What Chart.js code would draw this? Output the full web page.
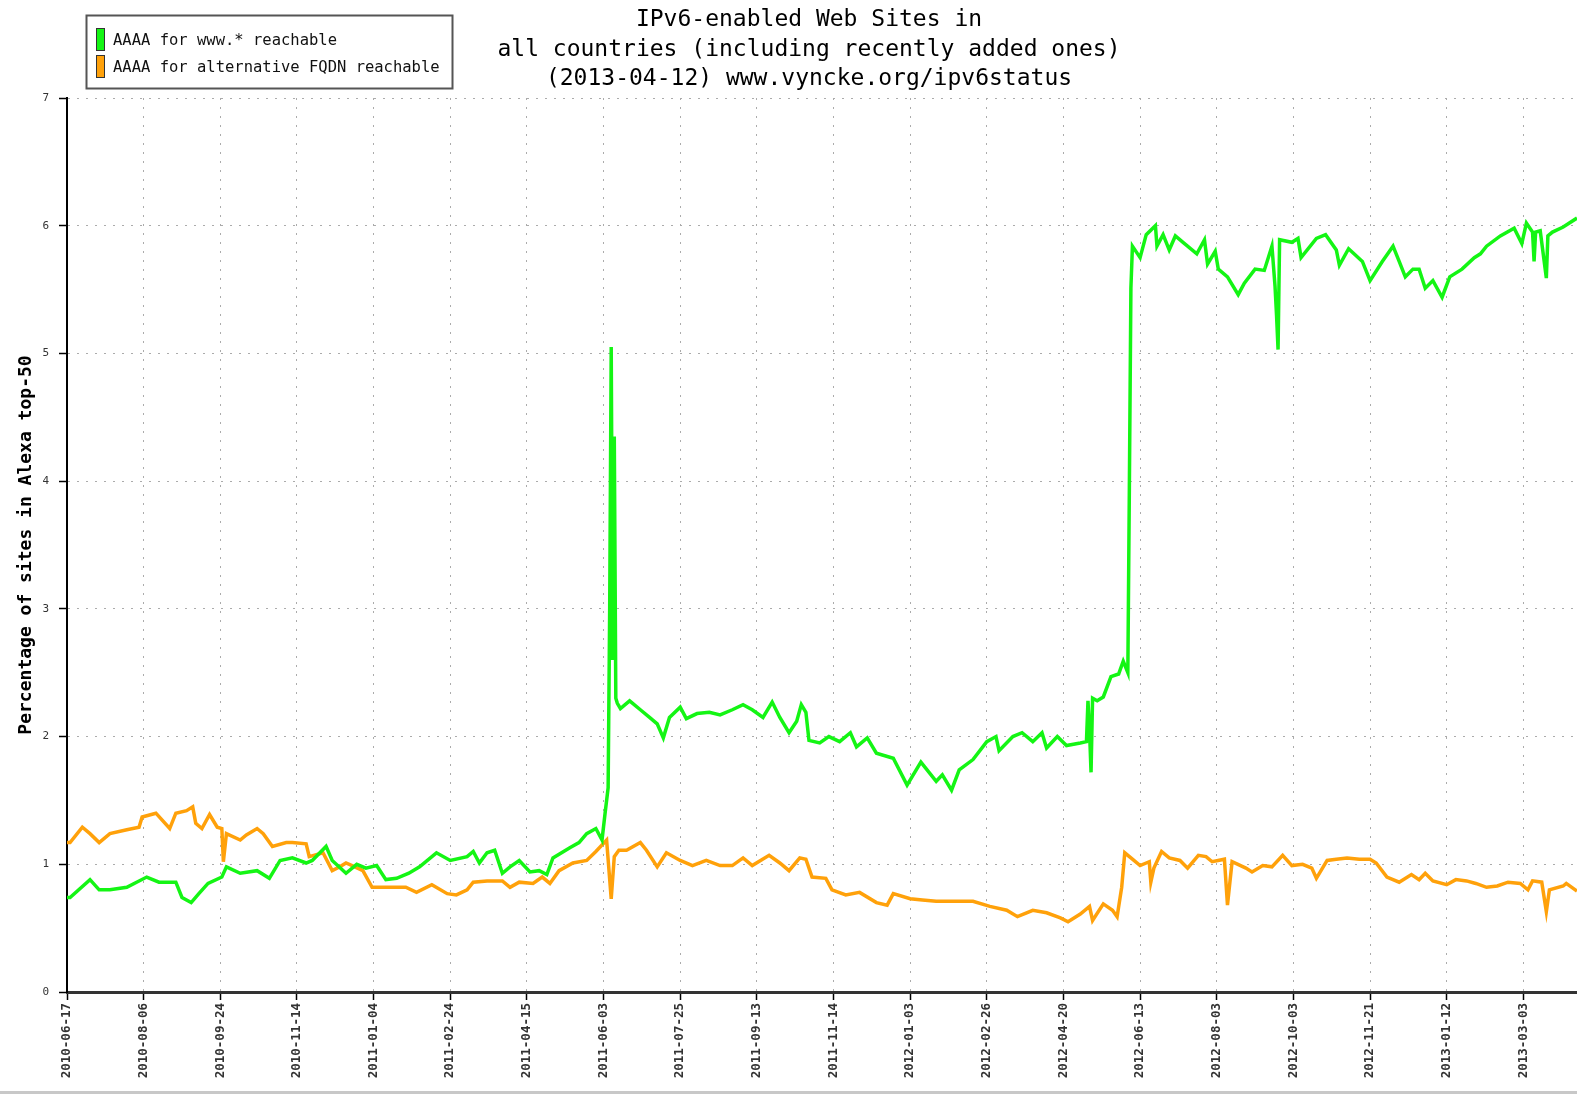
<!DOCTYPE html>
<html>
<head>
<meta charset="utf-8">
<title>IPv6-enabled Web Sites</title>
<script src="https://cdn.jsdelivr.net/npm/chart.js@4.4.0/dist/chart.umd.min.js"></script>
<style>
    html, body { margin: 0; padding: 0; background: #fff; }
    #wrap { width: 1577px; height: 1094px; }
</style>
</head>
<body>
<div id="wrap"><canvas id="ipv6Chart" width="1577" height="1094"></canvas></div>
<script>
    // x = sample number (one sample per collection run), y = percentage
    const tickDates = [
        '2010-06-17', '2010-08-06', '2010-09-24', '2010-11-14', '2011-01-04',
        '2011-02-24', '2011-04-15', '2011-06-03', '2011-07-25', '2011-09-13',
        '2011-11-14', '2012-01-03', '2012-02-26', '2012-04-20', '2012-06-13',
        '2012-08-03', '2012-10-03', '2012-11-21', '2013-01-12', '2013-03-03'
    ];
    const samplesPerTick = 50;
    const lastSample = 985;

    const titleLines = [
        'IPv6-enabled Web Sites in',
        'all countries (including recently added ones)',
        '(2013-04-12) www.vyncke.org/ipv6status'
    ];
    const yTitle = 'Percentage of sites in Alexa top-50';

    const wwwLabel = 'AAAA for www.* reachable';
    const wwwSeries = [
        [0,0.74],[2,0.74],[15,0.88],[21,0.80],[28,0.80],[39,0.82],[52,0.90],[60,0.86],[71,0.86],[75,0.74],
        [81,0.70],[86,0.77],[92,0.85],[101,0.90],[104,0.98],[113,0.93],[124,0.95],[132,0.89],[139,1.03],[147,1.05],
        [156,1.01],[160,1.03],[169,1.14],[173,1.03],[182,0.93],[189,1.00],[195,0.97],[202,0.99],[208,0.88],[215,0.89],
        [223,0.93],[230,0.98],[241,1.09],[250,1.03],[261,1.06],[265,1.10],[269,1.01],[274,1.09],[279,1.11],[284,0.93],
        [289,0.98],[295,1.03],[302,0.94],[308,0.95],[313,0.92],[317,1.05],[328,1.13],[334,1.17],[339,1.24],[345,1.28],
        [349,1.19],[351,1.40],[353,1.60],[354,3.00],[355,5.05],[356,2.60],[357,4.35],[358,2.30],[359,2.26],[361,2.22],
        [367,2.28],[374,2.21],[380,2.15],[385,2.10],[389,1.99],[393,2.15],[400,2.23],[404,2.14],[411,2.18],[419,2.19],
        [426,2.17],[434,2.21],[441,2.25],[447,2.21],[454,2.15],[460,2.27],[465,2.15],[471,2.03],[476,2.12],[479,2.25],
        [482,2.19],[484,1.97],[491,1.95],[497,2.00],[504,1.96],[511,2.03],[515,1.92],[522,1.99],[528,1.87],[539,1.83],
        [548,1.62],[557,1.80],[567,1.65],[571,1.70],[577,1.58],[582,1.74],[591,1.82],[600,1.96],[606,2.00],[608,1.89],
        [617,2.00],[623,2.03],[630,1.96],[636,2.03],[639,1.91],[646,2.00],[652,1.93],[661,1.95],[665,1.96],[666,2.28],
        [667,2.05],[668,1.72],[669,2.30],[672,2.28],[676,2.31],[681,2.47],[686,2.49],[689,2.59],[692,2.50],[693,3.95],
        [694,5.51],[695,5.84],[700,5.75],[704,5.93],[710,6.00],[711,5.84],[715,5.93],[719,5.81],[723,5.92],[728,5.87],
        [737,5.78],[742,5.89],[744,5.70],[749,5.80],[751,5.66],[757,5.60],[764,5.46],[768,5.55],[775,5.66],[781,5.65],
        [786,5.84],[788,5.53],[789,5.30],[790,5.03],[791,5.89],[799,5.87],[803,5.90],[805,5.75],[815,5.90],[821,5.93],
        [828,5.81],[830,5.69],[836,5.82],[845,5.72],[850,5.57],[858,5.72],[865,5.84],[869,5.72],[873,5.60],[878,5.66],
        [882,5.66],[886,5.51],[891,5.57],[897,5.44],[902,5.60],[910,5.66],[918,5.75],[922,5.78],[926,5.84],[935,5.92],
        [944,5.98],[949,5.86],[952,6.02],[956,5.95],[957,5.72],[958,5.95],[961,5.96],[965,5.59],[966,5.92],[969,5.95],
        [976,5.99],[985,6.06]
    ];

    const altLabel = 'AAAA for alternative FQDN reachable';
    const altSeries = [
        [0,1.17],[2,1.17],[10,1.29],[15,1.24],[21,1.17],[28,1.24],[39,1.27],[47,1.29],[49,1.37],[58,1.40],
        [67,1.28],[71,1.40],[78,1.42],[82,1.45],[84,1.32],[88,1.28],[93,1.39],[98,1.29],[101,1.28],[102,1.02],
        [104,1.24],[113,1.19],[117,1.23],[124,1.28],[128,1.24],[134,1.14],[143,1.17],[147,1.17],[156,1.16],[158,1.06],
        [167,1.09],[173,0.95],[178,0.98],[182,1.01],[186,0.99],[193,0.95],[199,0.82],[210,0.82],[221,0.82],[228,0.78],
        [238,0.84],[248,0.77],[254,0.76],[261,0.80],[265,0.86],[274,0.87],[284,0.87],[289,0.82],[295,0.86],[304,0.85],
        [310,0.90],[315,0.85],[321,0.95],[330,1.01],[339,1.03],[345,1.10],[352,1.19],[355,0.73],[357,1.06],[360,1.11],
        [365,1.11],[374,1.17],[378,1.11],[385,0.98],[391,1.09],[400,1.03],[408,0.99],[417,1.03],[426,0.99],[434,0.99],
        [441,1.05],[447,0.99],[458,1.07],[465,1.01],[471,0.95],[478,1.05],[482,1.04],[486,0.90],[495,0.89],[499,0.80],
        [508,0.76],[517,0.78],[528,0.70],[535,0.68],[539,0.77],[550,0.73],[558,0.72],[567,0.71],[580,0.71],[591,0.71],
        [602,0.67],[613,0.64],[620,0.59],[630,0.64],[639,0.62],[648,0.58],[653,0.55],[661,0.61],[667,0.67],[669,0.56],
        [676,0.69],[682,0.64],[685,0.59],[688,0.82],[690,1.09],[695,1.04],[700,0.99],[706,1.02],[707,0.86],[709,0.97],
        [714,1.10],[719,1.05],[726,1.03],[731,0.97],[738,1.07],[743,1.06],[747,1.02],[755,1.04],[757,0.68],[760,1.02],
        [769,0.97],[773,0.94],[780,0.99],[786,0.98],[793,1.07],[799,0.99],[806,1.00],[812,0.97],[815,0.89],[822,1.03],
        [828,1.04],[835,1.05],[843,1.04],[850,1.04],[854,1.01],[861,0.90],[869,0.86],[877,0.92],[882,0.88],[886,0.93],
        [891,0.87],[900,0.84],[906,0.88],[913,0.87],[919,0.85],[926,0.82],[933,0.83],[940,0.86],[948,0.85],[953,0.80],
        [956,0.87],[962,0.86],[965,0.63],[967,0.80],[976,0.83],[978,0.85],[985,0.79]
    ];

    const toPoints = (series) => series.map(([x, y]) => ({ x, y }));

    // title + boxed legend, drawn the way the original rrd-style image has them
    const headerPlugin = {
        id: 'header',
        afterDraw(chart) {
            const ctx = chart.ctx;
            ctx.save();

            ctx.fillStyle = '#000';
            ctx.font = '23px "DejaVu Sans Mono"';
            ctx.textAlign = 'center';
            ctx.textBaseline = 'middle';
            titleLines.forEach((line, i) => ctx.fillText(line, 809, 20 + i * 29.7));

            ctx.lineWidth = 2;
            ctx.strokeStyle = '#555';
            ctx.strokeRect(86.5, 15.5, 366, 73);

            ctx.font = '15.5px "DejaVu Sans Mono"';
            ctx.textAlign = 'left';
            chart.data.datasets.forEach((ds, i) => {
                const top = 28 + i * 27;
                ctx.fillStyle = ds.borderColor;
                ctx.fillRect(96, top, 8, 22);
                ctx.lineWidth = 1;
                ctx.strokeStyle = '#333';
                ctx.strokeRect(96.5, top + 0.5, 8, 22);
                ctx.fillStyle = '#111';
                ctx.fillText(ds.label, 113, top + 13);
            });

            ctx.fillStyle = '#c8c8c8';
            ctx.fillRect(0, 1091, chart.width, 3);
            ctx.restore();
        }
    };

    const gridStyle = {
        color: '#ababab',
        lineWidth: 1,
        tickColor: '#000',
        tickLength: 8,
        tickWidth: 1.5
    };

    const ctx = document.getElementById('ipv6Chart').getContext('2d');
    new Chart(ctx, {
        type: 'line',
        data: {
            datasets: [
                {
                    label: wwwLabel,
                    data: toPoints(wwwSeries),
                    borderColor: '#14f514',
                    borderWidth: 3.5,
                    pointRadius: 0,
                    tension: 0,
                    fill: false
                },
                {
                    label: altLabel,
                    data: toPoints(altSeries),
                    borderColor: '#ffa10a',
                    borderWidth: 3.5,
                    pointRadius: 0,
                    tension: 0,
                    fill: false
                }
            ]
        },
        options: {
            responsive: false,
            animation: false,
            events: [],
            layout: { padding: { top: 98, left: 0, right: 0, bottom: 0 } },
            plugins: {
                legend: { display: false },
                title: { display: false },
                tooltip: { enabled: false }
            },
            scales: {
                x: {
                    type: 'linear',
                    min: 0,
                    max: lastSample,
                    afterFit: (scale) => { scale.height = 102; },
                    afterBuildTicks: (scale) => {
                        scale.ticks = tickDates.map((_, i) => ({ value: i * samplesPerTick }));
                    },
                    ticks: {
                        autoSkip: false,
                        maxRotation: 90,
                        minRotation: 90,
                        padding: 3,
                        color: '#333',
                        font: { family: '"DejaVu Sans Mono"', size: 12.5, weight: 'bold' },
                        callback: (value) => tickDates[Math.round(value / samplesPerTick)]
                    },
                    grid: gridStyle,
                    border: { display: true, color: '#333', width: 3, dash: [2, 7] }
                },
                y: {
                    min: 0,
                    max: 7,
                    afterFit: (scale) => { scale.width = 67; },
                    ticks: {
                        stepSize: 1,
                        padding: 10,
                        color: '#333',
                        font: { family: '"DejaVu Sans Mono"', size: 11 }
                    },
                    grid: gridStyle,
                    border: { display: true, color: '#000', width: 2, dash: [2, 7] },
                    title: {
                        display: true,
                        text: yTitle,
                        color: '#000',
                        padding: { top: 16, bottom: 0 },
                        font: { family: '"DejaVu Sans Mono"', size: 18, weight: 'bold' }
                    }
                }
            }
        },
        plugins: [headerPlugin]
    });
</script>
</body>
</html>
